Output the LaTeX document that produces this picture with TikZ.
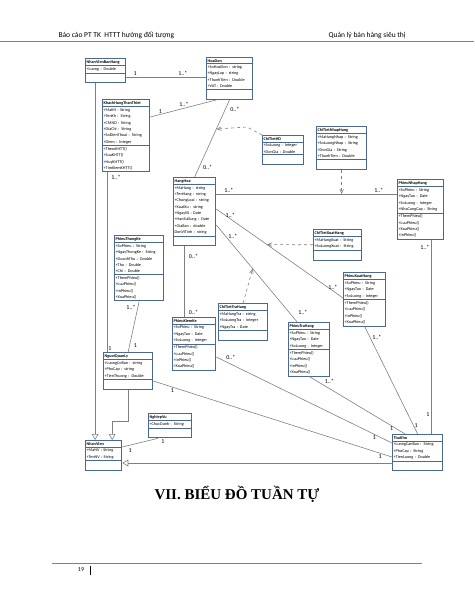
\documentclass[tikz,border=0pt]{standalone}
\usepackage{fontspec}
\setmainfont{Liberation Serif}
\newfontfamily\calib{Carlito}
\usetikzlibrary{arrows,shapes.multipart,calc}
\definecolor{khung}{RGB}{74,104,150}
\definecolor{duong}{RGB}{128,128,128}
\tikzset{
lop/.style={draw=khung,line width=.9pt,fill=white,anchor=north west,rectangle split,rectangle split parts=3,
  rectangle split part align={center,left,left},rectangle split empty part height=6pt,
  inner xsep=1.2pt,inner ysep=1.4pt,font=\calib\fontsize{4.2}{6.3}\selectfont},
nhan/.style={font=\calib\fontsize{6}{7}\selectfont,inner sep=1pt},
lk/.style={draw=duong,line width=.6pt},
ke/.style={dashed,-angle 45},
kt/.style={-open triangle 60}}

\begin{document}
\begin{tikzpicture}[x=1pt,y=-1pt]
\useasboundingbox(0,0)rectangle(474,613);
\draw[line width=1pt,draw=gray](0,41)--(474,41)(52,563)--(422,563);
\node[font=\calib\fontsize{7.5}{9}\selectfont,anchor=base west]at(55,37){Báo cáo PT TK\ \ HTTT hướng đối tượng};
\node[font=\calib\fontsize{7.5}{9}\selectfont,anchor=base west]at(325,37){Quản lý bán hàng siêu thị};
\node[font=\fontsize{15}{18}\selectfont\bfseries]at(237,494){VII. BIỂU ĐỒ TUẦN TỰ};
\node[font=\calib\fontsize{6}{7}\selectfont]at(81,570){19};\draw[line width=.8pt](90,566)--(90,575);

\node[lop,text width=38pt](nvbh)at(85,58){\textbf{NhanVienBanHang}\nodepart{second}+Luong : Double};
\node[lop,text width=44pt](hd)at(206,57){\textbf{HoaDon}\nodepart{second}+SoHoaDon : string\\+NgayLap : string\\+ThanhTien : Double\\+VAT : Double};
\node[lop,text width=45pt](khtt)at(102,99){\textbf{KhachHangThanThiet}\nodepart{second}+MaKH : String\\+TenKh : String\\+CMND : String\\+DiaChi : String\\+SoDienThoai : String\\+Diem : Integer\nodepart{third}+ThemKHTT()\\+SuaKHTT()\\+HuyKHTT()\\+TimKiemKHTT()};
\node[lop,text width=39pt](cthd)at(262,135){\textbf{ChiTietHD}\nodepart{second}+SoLuong : Integer\\+DonGia : Double};
\node[lop,text width=48pt](ctnh)at(316,126){\textbf{ChiTietNhapHang}\nodepart{second}+MaHangNhap : String\\+SoLuongNhap : String\\+DonGia : String\\+ThanhTien : Double};
\node[lop,text width=40pt](hh)at(173,177){\textbf{HangHoa}\nodepart{second}+MaHang : string\\+TenHang : string\\+ChungLoai : string\\+XuatXu : string\\+NgaySX : Date\\+HanSuDung : Date\\+GiaBan : double\\DonViTinh : string};
\node[lop,text width=44pt](pnh)at(397,179){\textbf{PhieuNhapHang}\nodepart{second}+SoPhieu : String\\+NgayTao : Date\\+SoLuong : Integer\\+NhaCungCap : String\nodepart{third}+ThemPhieu()\\+LuuPhieu()\\+XoaPhieu()\\+InPhieu()};
\node[lop,text width=46pt](ctxh)at(313,229){\textbf{ChiTietXuatHang}\nodepart{second}+MaHangXuat : String\\+SoLuongXuat : String};
\node[lop,text width=47pt](ptk)at(114,235){\textbf{PhieuThongKe}\nodepart{second}+SoPhieu : String\\+NgayThongKe : String\\+DoanhThu : Double\\+Thu : Double\\+Chi : Double\nodepart{third}+ThemPhieu()\\+LuuPhieu()\\+InPhieu()\\+XoaPhieu()};
\node[lop,text width=47pt](cttrh)at(218,303){\textbf{ChiTietTraHang}\nodepart{second}+MaHangTra : string\\+SoLuongTra : Integer\\+NgayTra : Date};
\node[lop,text width=41pt](pkk)at(172,317){\textbf{PhieuKiemKe}\nodepart{second}+SoPhieu : String\\+NgayTao : Date\\+SoLuong : Integer\nodepart{third}+ThemPhieu()\\+LuuPhieu()\\+InPhieu()\\+XoaPhieu()};
\node[lop,text width=40pt](pxh)at(343,272){\textbf{PhieuXuatHang}\nodepart{second}+SoPhieu : String\\+NgayTao : Date\\+SoLuong : Integer\nodepart{third}+ThemPhieu()\\+LuuPhieu()\\+InPhieu()\\+XoaPhieu()};
\node[lop,text width=39pt](ptrh)at(288,322){\textbf{PhieuTraHang}\nodepart{second}+SoPhieu : String\\+NgayTao : Date\\+SoLuong : Integer\nodepart{third}+ThemPhieu()\\+LuuPhieu()\\+InPhieu()\\+XoaPhieu()};
\node[lop,text width=47pt](nql)at(103,352){\textbf{NguoiQuanLy}\nodepart{second}+LuongCoBan : string\\+PhuCap : string\\+TienThuong : Double};
\node[lop,text width=41pt](ngv)at(148,413){\textbf{NghiepVu}\nodepart{second}+ChucDanh : String};
\node[lop,text width=34pt](nv)at(85,440){\textbf{NhanVien}\nodepart{second}+MaNV : String\\+TenNV : String};
\node[lop,text width=48pt](tk)at(392,434){\textbf{ThuKho}\nodepart{second}+LuongCanBan : String\\+PhuCap : String\\+TienLuong : Double};

\coordinate(a1)at([yshift=-19pt]nvbh.north east);\coordinate(a2)at([yshift=-18pt]khtt.north east);\coordinate(a3)at([xshift=-12pt]hd.south);
\coordinate(b1)at([yshift=-17pt]hh.north east);\coordinate(b2)at([yshift=-32pt]hh.north east);\coordinate(b3)at([yshift=-26pt]pxh.north west);
\coordinate(b4)at([yshift=-48pt]hh.north east);\coordinate(b5)at([xshift=-12pt]ptrh.north);\coordinate(b6)at([xshift=-10pt]hh.south);
\coordinate(c1)at([xshift=-10.5pt]nvbh.south);\coordinate(c2)at([xshift=-19pt]khtt.south);
\coordinate(d1)at([xshift=10pt]ngv.south west);\coordinate(d2)at([yshift=-7pt]nv.north east);\coordinate(e1)at([yshift=-29pt]tk.north west);
\coordinate(f1)at([xshift=-12.5pt]tk.north);\coordinate(f2)at([xshift=11pt]pnh.south);
\coordinate(f3)at([yshift=-40pt]pkk.north east);\coordinate(f4)at([yshift=-9pt]tk.north west);
\coordinate(f5)at([yshift=-29pt]nql.north east);\coordinate(f6)at([yshift=-23pt]tk.north west);
\coordinate(m1)at($(hd.south)!.38!(hh.north)$);\coordinate(m3)at($(b2)!.4!(b3)$);\coordinate(m4)at($(b4)!.45!(b5)$);

\draw[lk](a1)--(a1-|hd.west)node[nhan,pos=.11,above]{1}node[nhan,pos=.71,above]{1..*};
\draw[lk](a2)--(a3)node[nhan,pos=.15,above]{1}node[nhan,pos=.5,above]{1..*};
\draw[lk](hd.south)--(hh.north)node[nhan,pos=.13,right=4pt]{0..*}node[nhan,pos=.88,right=3pt]{0..*};
\draw[lk,ke](cthd.north west)--++(-15,-8)--(m1);
\draw[lk](b1)--(b1-|pnh.west)node[nhan,pos=.07,above]{1..*}node[nhan,pos=.9,above]{1..*};
\draw[lk,ke](ctnh.south)--(ctnh.south|-b1);
\draw[lk](b2)--(b3)node[nhan,pos=.11,above]{1..*}node[nhan,pos=.92,above]{1..*};
\draw[lk,ke](ctxh.west)--(m3);
\draw[lk](b4)--(b5)node[nhan,pos=.12,right=1pt]{1..*}node[nhan,pos=.9,right=8pt]{1..*};
\draw[lk,ke](cttrh.north)--(m4);
\draw[lk](b6)--(b6|-pkk.north)node[nhan,pos=.15,right=3pt]{0..*}node[nhan,pos=.93,right=3pt]{0..*};
\draw[lk,kt](c1)--(c1|-nv.north);
\draw[lk](c2)--(c2|-nql.north)node[nhan,pos=.03,right=3pt]{1..*}node[nhan,pos=.98,right=0pt]{1};
\draw[lk](ptk.south)--(nql.north)node[nhan,pos=.12,left=1pt]{1..*}node[nhan,pos=.88,right=3pt]{1};
\draw[lk,kt](nql.south)--++(0,31)-|([xshift=8.5pt]nv.north);
\draw[lk](d1)--(d2)node[nhan,pos=0,anchor=north west,xshift=2pt]{1}node[nhan,pos=1,anchor=north west,xshift=5pt]{1};
\draw[lk,kt](e1)--(e1-|nv.east);
\draw[lk](ptrh.south)--(f1)node[nhan,pos=.15,above right=0pt]{1..*}node[nhan,pos=.9,left=1pt]{1};
\draw[lk](pxh.south)--(tk.north)node[nhan,pos=.1,right=1pt]{1..*}node[nhan,pos=.92,right=0pt]{1};
\draw[lk](f2)--(f2|-tk.north)node[nhan,pos=.04,left=1pt]{1..*}node[nhan,pos=.9,left=1pt]{1};
\draw[lk](f3)--(f4)node[nhan,pos=.05,above right=0pt]{0..*}node[nhan,pos=.9,below=0pt]{1};
\draw[lk](f5)--(f6)node[nhan,pos=.08,below=0pt]{1}node[nhan,pos=.95,below=0pt]{1};
\end{tikzpicture}
\end{document}
